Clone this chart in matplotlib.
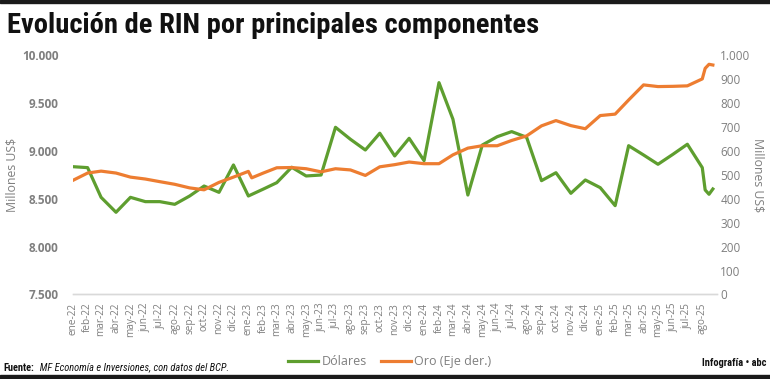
import matplotlib
matplotlib.use("Agg")
import matplotlib.pyplot as plt
import pandas as pd
from matplotlib.lines import Line2D
from matplotlib.patches import Rectangle
from matplotlib.ticker import FuncFormatter, MultipleLocator

# monthly points, ene-22 .. jul-25, then the August 2025 tail
MONTHS = pd.date_range("2022-01-01", "2025-07-01", freq="MS")
TAIL_DATES = pd.to_datetime(["2025-08-01", "2025-08-07", "2025-08-15", "2025-08-23"])

DOLARES = [
    8834, 8824, 8514, 8358, 8514, 8469, 8469, 8441, 8528, 8632, 8566, 8852,
    8528, 8600, 8667, 8828, 8737, 8747, 9245, 9120, 9008, 9183, 8946, 9130,
    8897, 9711, 9329, 8538, 9060, 9147, 9200, 9141, 8688, 8771, 8556, 8695,
    8615, 8427, 9053, 8956, 8859, 8963, 9068,
]
DOLARES_TAIL = [8824, 8591, 8546, 8601]

ORO = [
    476, 507, 515, 507, 490, 482, 471, 460, 445, 437, 468, 490,
    514, 507, 529, 530, 525, 512, 525, 520, 497, 533, 542, 553,
    546, 546, 583, 611, 621, 621, 643, 662, 704, 726, 705, 692,
    747, 753, 812, 875, 868, 869, 871,
]
ORO_EXTRA_DATE = pd.Timestamp("2023-01-08")
ORO_EXTRA = 487
ORO_TAIL = [900, 944, 961, 958]

MES = ["ene", "feb", "mar", "abr", "may", "jun", "jul", "ago", "sep", "oct", "nov", "dic"]

GREEN = "#5E9E2F"
ORANGE = "#ED7D31"
GRAY = "#7F7F7F"
COND = ["Liberation Sans Narrow", "Roboto Condensed", "DejaVu Sans"]
BODY = ["Open Sans", "DejaVu Sans"]


def thousands(v, _pos):
    return f"{int(round(v)):,}".replace(",", ".")


def main() -> None:
    plt.rcParams["font.family"] = BODY

    dol = pd.Series(DOLARES + DOLARES_TAIL, index=MONTHS.append(TAIL_DATES))
    oro = pd.Series(ORO + ORO_TAIL, index=MONTHS.append(TAIL_DATES))
    oro[ORO_EXTRA_DATE] = ORO_EXTRA
    oro = oro.sort_index()

    fig = plt.figure(figsize=(7.7, 3.79), dpi=100)
    ax = fig.add_axes([0.0944, 0.223, 0.8364, 0.632])
    ax2 = ax.twinx()

    ax.plot(dol.index, dol.values, color=GREEN, lw=2.3, zorder=3)
    ax2.plot(oro.index, oro.values, color=ORANGE, lw=2.3, zorder=3)

    ax.set_xlim(pd.Timestamp("2022-01-01"), pd.Timestamp("2025-08-31"))
    ax.set_ylim(7500, 10000)
    ax2.set_ylim(0, 1000)

    ticks = pd.date_range("2022-01-01", "2025-08-01", freq="MS")
    ax.set_xticks(ticks)
    ax.set_xticklabels([f"{MES[d.month - 1]}-{d.year % 100:02d}" for d in ticks],
                       rotation=90, fontsize=7.2, color=GRAY)

    ax.yaxis.set_major_locator(MultipleLocator(500))
    ax.yaxis.set_major_formatter(FuncFormatter(thousands))
    ax2.yaxis.set_major_locator(MultipleLocator(100))
    ax2.yaxis.set_major_formatter(FuncFormatter(thousands))

    for label in ax.get_yticklabels():
        label.set_fontweight("bold")
    ax.tick_params(axis="y", length=0, pad=10, labelsize=8.5, labelcolor=GRAY)
    ax2.tick_params(axis="y", length=0, pad=2.5, labelsize=8.5, labelcolor=GRAY)
    ax.tick_params(axis="x", length=0, pad=6)

    for a in (ax, ax2):
        for side in ("top", "left", "right"):
            a.spines[side].set_visible(False)
        a.spines["bottom"].set_color("#D9D9D9")
        a.spines["bottom"].set_linewidth(1.0)

    ax.set_ylabel("Millones US$", color=GRAY, fontsize=8.8)
    ax.yaxis.set_label_coords(-0.084, 0.5)
    ax2.set_ylabel("Millones US$", color=GRAY, fontsize=8.8, rotation=270, labelpad=10)

    fig.text(0.009, 0.913, "Evolución de RIN por principales componentes",
             family=COND, fontweight="bold", fontsize=20.5, color="#111111",
             va="baseline", ha="left")

    handles = [Line2D([], [], color=GREEN, lw=2.3), Line2D([], [], color=ORANGE, lw=2.3)]
    fig.legend(handles, ["Dólares", "Oro (Eje der.)"], loc="center",
               bbox_to_anchor=(0.506, 0.045), ncol=2, frameon=False,
               fontsize=9, labelcolor=GRAY, handlelength=2.4,
               handletextpad=0.25, columnspacing=1.1)

    src = fig.text(0.005, 0.022, "Fuente:", family=COND, fontweight="bold",
                   fontsize=7.5, color="#111111", va="baseline")
    ax.annotate("  MF Economía e Inversiones, con datos del BCP.", xy=(1, 0),
                xycoords=src, va="bottom", ha="left", family=COND,
                style="italic", fontsize=7.5, color="#111111", annotation_clip=False)

    fig.text(0.995, 0.034, "Infografía • abc", family=COND, fontweight="bold",
             fontsize=7.5, color="#111111", ha="right", va="baseline")

    fig.patches.append(Rectangle((0, 0.992), 1, 0.008, transform=fig.transFigure,
                                 color="#1A1A1A", zorder=10))
    fig.patches.append(Rectangle((0, 0), 1, 0.011, transform=fig.transFigure,
                                 color="#1A1A1A", zorder=10))

    fig.savefig("out.png", dpi=100)
    plt.close(fig)


if __name__ == "__main__":
    main()
